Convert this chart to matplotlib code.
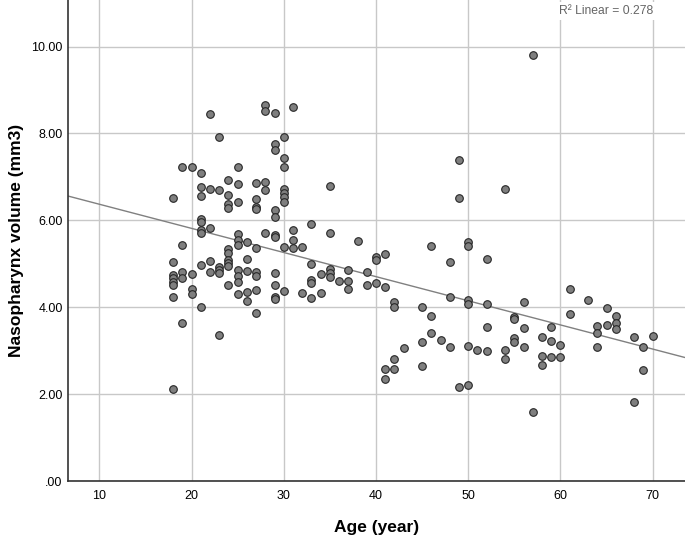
import numpy as np
import matplotlib
matplotlib.use("Agg")
import matplotlib.pyplot as plt

plt.rcParams['font.family'] = ['Liberation Sans', 'DejaVu Sans']

# ---- data ----
age = (
    [18]*8 + [19]*5 + [20]*4 + [21]*9 + [22]*5 + [23]*6 + [24]*10 + [25]*10 +
    [26]*5 + [27]*9 + [28]*5 + [29]*11 + [30]*9 + [31]*4 + [32]*2 + [33]*5 +
    [34]*2 + [35]*5 + [36]*1 + [37]*3 + [38]*1 + [39]*2 + [40]*3 + [41]*4 +
    [42]*4 + [43]*1 + [45]*3 + [46]*3 + [47]*1 + [48]*3 + [49]*3 + [50]*6 +
    [51]*1 + [52]*4 + [54]*3 + [55]*4 + [56]*3 + [57]*2 + [58]*3 + [59]*3 +
    [60]*2 + [61]*2 + [63]*1 + [64]*3 + [65]*2 + [66]*3 + [68]*2 + [69]*2 + [70]*1
)
volume = [
    6.52, 5.05, 4.75, 4.67, 4.59, 4.52, 4.25, 2.13,            # 18
    7.23, 5.43, 4.81, 4.67, 3.64,                              # 19
    7.23, 4.76, 4.42, 4.30,                                    # 20
    7.08, 6.77, 6.56, 6.03, 5.97, 5.79, 5.72, 4.97, 4.02,      # 21
    8.45, 6.72, 5.83, 5.07, 4.82,                              # 22
    7.92, 6.70, 4.93, 4.87, 4.78, 3.37,                        # 23
    6.94, 6.58, 6.37, 6.29, 5.35, 5.26, 5.09, 5.03, 4.96, 4.52,  # 24
    7.22, 6.84, 6.43, 5.69, 5.55, 5.44, 4.85, 4.72, 4.59, 4.30,  # 25
    5.50, 5.11, 4.84, 4.36, 4.14,                              # 26
    6.87, 6.49, 6.31, 6.27, 5.37, 4.82, 4.72, 4.39, 3.87,      # 27
    8.66, 8.51, 6.89, 6.71, 5.71,                              # 28
    8.47, 7.76, 7.62, 6.23, 6.07, 5.66, 5.63, 4.78, 4.51, 4.24, 4.20,  # 29
    7.93, 7.43, 7.24, 6.73, 6.64, 6.54, 6.43, 5.38, 4.37,      # 30
    8.61, 5.78, 5.55, 5.37,                                    # 31
    5.38, 4.32,                                                # 32
    5.92, 5.00, 4.63, 4.57, 4.21,                              # 33
    4.77, 4.34,                                                # 34
    6.80, 5.71, 4.89, 4.80, 4.71,                              # 35
    4.61,                                                      # 36
    4.87, 4.61, 4.43,                                          # 37
    5.53,                                                      # 38
    4.82, 4.51,                                                # 39
    5.17, 5.09, 4.56,                                          # 40
    5.22, 4.47, 2.58, 2.35,                                    # 41
    4.13, 4.02, 2.81, 2.58,                                    # 42
    3.06,                                                      # 43
    4.02, 3.20, 2.66,                                          # 45
    5.42, 3.80, 3.41,                                          # 46
    3.25,                                                      # 47
    5.05, 4.23, 3.10,                                          # 48
    7.38, 6.52, 2.17,                                          # 49
    5.50, 5.42, 4.18, 4.07, 3.11, 2.21,                        # 50
    3.01,                                                      # 51
    5.12, 4.08, 3.54, 3.00,                                    # 52
    6.72, 3.01, 2.81,                                          # 54
    3.77, 3.73, 3.29, 3.21,                                    # 55
    4.12, 3.52, 3.08,                                          # 56
    9.80, 1.59,                                                # 57
    3.31, 2.89, 2.68,                                          # 58
    3.55, 3.23, 2.87,                                          # 59
    3.14, 2.85,                                                # 60
    4.43, 3.85,                                                # 61
    4.17,                                                      # 63
    3.57, 3.40, 3.09,                                          # 64
    3.99, 3.60,                                                # 65
    3.80, 3.64, 3.51,                                          # 66
    3.32, 1.83,                                                # 68
    3.08, 2.56,                                                # 69
    3.34,                                                      # 70
]
x_ticks = [10, 20, 30, 40, 50, 60, 70]
y_ticks = [0, 2, 4, 6, 8, 10]
y_tick_labels = ['.00', '2.00', '4.00', '6.00', '8.00', '10.00']
r2_label = 'R\u00b2 Linear = 0.278'
x_label = 'Age (year)'
y_label = 'Nasopharynx volume (mm3)'

age = np.array(age, dtype=float)
volume = np.array(volume, dtype=float)

W, H = 685, 538
fig = plt.figure(figsize=(W / 100, H / 100), dpi=100)
ax = fig.add_axes([68.3 / W, 1 - 481.3 / H, 1 - 68.3 / W, 481.3 / H])

xlim = (6.64, 73.5)
ax.set_xlim(*xlim)
ax.set_ylim(0, 11.07)

ax.set_xticks(x_ticks)
ax.set_yticks(y_ticks)
ax.set_yticklabels(y_tick_labels)
ax.grid(True, color='#c8c8c8', linewidth=1.0, zorder=0)
ax.set_axisbelow(True)
ax.tick_params(length=0, labelsize=9, colors='#000000')
ax.tick_params(axis='x', pad=6)
ax.tick_params(axis='y', pad=4)

for s in ['top', 'right']:
    ax.spines[s].set_visible(False)
for s in ['left', 'bottom']:
    ax.spines[s].set_color('#333333')
    ax.spines[s].set_linewidth(1.2)

# fit line
slope, intercept = np.polyfit(age, volume, 1)
xs = np.array(xlim)
ax.plot(xs, intercept + slope * xs, color='#808080', linewidth=1.0, zorder=2)

ax.scatter(age, volume, s=30, facecolor='#7f7f7f', edgecolor='#262626',
           linewidth=0.8, zorder=3)

ax.text(70.1, 10.82, r2_label, ha='right', va='center', fontsize=8.7,
        color='#666666', zorder=4,
        bbox=dict(facecolor='white', edgecolor='none', pad=2))

ax.set_xlabel(x_label, fontsize=12.5, fontweight='bold', labelpad=13)
ax.set_ylabel(y_label, fontsize=12.5, fontweight='bold', labelpad=5)

fig.savefig('out.png', dpi=100)
